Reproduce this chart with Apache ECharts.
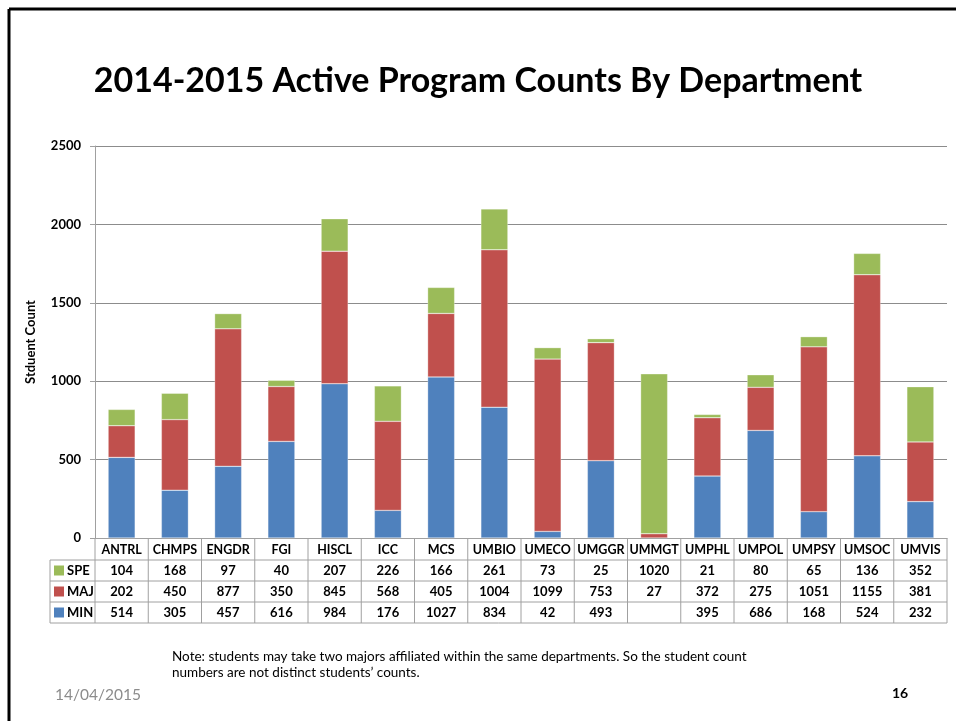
<!DOCTYPE html>
<html>
<head>
<meta charset="utf-8">
<script src="https://cdn.jsdelivr.net/npm/echarts@6/dist/echarts.min.js"></script>
<style>
  html, body { margin: 0; padding: 0; background: #fff; }
  #main { width: 956px; height: 721px; }
</style>
</head>
<body>
<div id="main"></div>
<script>
// data
var depts = ['ANTRL','CHMPS','ENGDR','FGI','HISCL','ICC','MCS','UMBIO','UMECO','UMGGR','UMMGT','UMPHL','UMPOL','UMPSY','UMSOC','UMVIS'];
var spe = [104, 168, 97, 40, 207, 226, 166, 261, 73, 25, 1020, 21, 80, 65, 136, 352];
var maj = [202, 450, 877, 350, 845, 568, 405, 1004, 1099, 753, 27, 372, 275, 1051, 1155, 381];
var min = [514, 305, 457, 616, 984, 176, 1027, 834, 42, 493, null, 395, 686, 168, 524, 232];
var yTicks = [0, 500, 1000, 1500, 2000, 2500];

var FONT = 'Lato, "Open Sans", sans-serif';
var COL_MIN = '#4F81BD', COL_MAJ = '#C0504D', COL_SPE = '#9BBB59';
var LINE = '#a0a0a0';

var chart = echarts.init(document.getElementById('main'));

var option = {
    backgroundColor: '#fff',
    animation: false,
    title: {
        text: '2014-2015 Active Program Counts By Department',
        left: 'center',
        top: 59,
        textStyle: { fontFamily: FONT, fontSize: 34, fontWeight: 'bold', color: '#000' }
    },
    grid: { left: 95, right: 9, top: 146, bottom: 183 },
    xAxis: {
        type: 'category',
        data: depts,
        axisLine: { lineStyle: { color: LINE } },
        axisTick: { show: false },
        axisLabel: {
            margin: 5, interval: 0,
            fontFamily: FONT, fontSize: 12.5, fontWeight: 'bold', color: '#000'
        }
    },
    yAxis: {
        type: 'value',
        min: yTicks[0],
        max: yTicks[yTicks.length - 1],
        interval: 500,
        name: 'Stduent Count',
        nameLocation: 'middle',
        nameGap: 58,
        nameTextStyle: { fontFamily: FONT, fontSize: 13, fontWeight: 'bold', color: '#000' },
        axisLine: { show: true, lineStyle: { color: LINE } },
        axisTick: { show: true, length: 5, lineStyle: { color: LINE } },
        axisLabel: {
            margin: 14, fontFamily: FONT, fontSize: 13, fontWeight: 'bold', color: '#000',
            formatter: function (v) { return String(v); }
        },
        splitLine: { lineStyle: { color: '#8c8c8c' } }
    },
    series: [
        { name: 'MIN', type: 'bar', stack: 'all', data: min, barWidth: 27,
          itemStyle: { color: COL_MIN, borderColor: 'rgba(255,255,255,0.6)', borderWidth: 0.5 } },
        { name: 'MAJ', type: 'bar', stack: 'all', data: maj, barWidth: 27,
          itemStyle: { color: COL_MAJ, borderColor: 'rgba(255,255,255,0.6)', borderWidth: 0.5 } },
        { name: 'SPE', type: 'bar', stack: 'all', data: spe, barWidth: 27,
          itemStyle: { color: COL_SPE, borderColor: 'rgba(255,255,255,0.6)', borderWidth: 0.5 } }
    ]
};
chart.setOption(option);

// data table under the axis, placed from the axis scale
function buildTable() {
    var y0 = chart.convertToPixel({ yAxisIndex: 0 }, 0);
    var c0 = chart.convertToPixel({ xAxisIndex: 0 }, 0);
    var c1 = chart.convertToPixel({ xAxisIndex: 0 }, 1);
    var step = c1 - c0;
    var xl = c0 - step / 2;
    var xr = chart.convertToPixel({ xAxisIndex: 0 }, depts.length - 1) + step / 2;
    var legendLeft = 50;
    var headH = 22, rowH = 21;
    var rows = [
        { name: 'SPE', color: COL_SPE, vals: spe },
        { name: 'MAJ', color: COL_MAJ, vals: maj },
        { name: 'MIN', color: COL_MIN, vals: min }
    ];
    var g = [];
    var top = y0 + headH;
    var bottom = top + rows.length * rowH;
    // horizontal lines
    for (var r = 0; r <= rows.length; r++) {
        var yy = top + r * rowH;
        g.push({ type: 'line', shape: { x1: legendLeft, y1: yy, x2: xr, y2: yy }, style: { stroke: LINE, lineWidth: 1 } });
    }
    // vertical lines
    g.push({ type: 'line', shape: { x1: legendLeft, y1: top, x2: legendLeft, y2: bottom }, style: { stroke: LINE, lineWidth: 1 } });
    for (var i = 0; i <= depts.length; i++) {
        var xx = xl + i * step;
        g.push({ type: 'line', shape: { x1: xx, y1: y0, x2: xx, y2: bottom }, style: { stroke: LINE, lineWidth: 1 } });
    }
    // rows
    rows.forEach(function (row, ri) {
        var cy = top + ri * rowH + rowH / 2;
        g.push({ type: 'rect', shape: { x: legendLeft + 4, y: cy - 5, width: 10, height: 10 }, style: { fill: row.color } });
        g.push({ type: 'text', x: legendLeft + 17, y: cy,
            style: { text: row.name, font: 'bold 13px ' + FONT, fill: '#000', verticalAlign: 'middle', align: 'left' } });
        row.vals.forEach(function (v, k) {
            if (v === null) return;
            g.push({ type: 'text', x: chart.convertToPixel({ xAxisIndex: 0 }, k), y: cy,
                style: { text: String(v), font: 'bold 13px ' + FONT, fill: '#000', verticalAlign: 'middle', align: 'center' } });
        });
    });
    // slide frame and footer
    g.push({ type: 'line', shape: { x1: 9, y1: 9, x2: 960, y2: 9 }, style: { stroke: '#000', lineWidth: 3 } });
    g.push({ type: 'line', shape: { x1: 9, y1: 9, x2: 9, y2: 725 }, style: { stroke: '#000', lineWidth: 3 } });
    g.push({ type: 'text', x: 172, y: 650, style: { text: 'Note: students may take two majors affiliated within the same departments. So the student count', font: '13.5px ' + FONT, fill: '#000' } });
    g.push({ type: 'text', x: 172, y: 666, style: { text: 'numbers are not distinct students\u2019 counts.', font: '13.5px ' + FONT, fill: '#000' } });
    g.push({ type: 'text', x: 55, y: 687, style: { text: '14/04/2015', font: '15.5px ' + FONT, fill: '#8c8c8c' } });
    g.push({ type: 'text', x: 892, y: 686, style: { text: '16', font: 'bold 14px ' + FONT, fill: '#000' } });
    chart.setOption({ graphic: g });
}
buildTable();
</script>
</body>
</html>
